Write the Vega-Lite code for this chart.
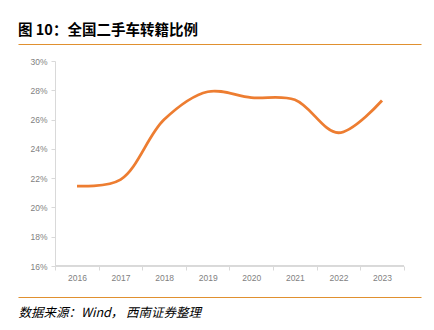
{
  "$schema": "https://vega.github.io/schema/vega-lite/v6.json",
  "width": 403,
  "height": 205,
  "autosize": "none",
  "padding": {"left": 18, "top": 61, "right": 13, "bottom": 64},
  "background": "white",
  "config": {"view": {"stroke": null}},
  "title": {
    "text": "图 10：全国二手车转籍比例",
    "anchor": "start",
    "frame": "group",
    "font": "Noto Sans CJK SC",
    "fontSize": 14.5,
    "fontWeight": "bold",
    "color": "#000000",
    "offset": 6
  },
  "data": {
    "values": [
      {"year": 2016, "value": 0.2146},
      {"year": 2017, "value": 0.2190},
      {"year": 2018, "value": 0.2600},
      {"year": 2019, "value": 0.2790},
      {"year": 2020, "value": 0.2750},
      {"year": 2021, "value": 0.2735},
      {"year": 2022, "value": 0.2510},
      {"year": 2023, "value": 0.2730}
    ]
  },
  "resolve": {"axis": {"x": "independent", "y": "independent"}},
  "layer": [
    {
      "mark": {"type": "line", "color": "#ED7D31", "strokeWidth": 2.8, "interpolate": "catmull-rom"},
      "encoding": {
        "x": {
          "field": "year",
          "type": "quantitative",
          "scale": {"domain": [2014.646, 2023.895], "nice": false, "zero": false},
          "axis": {
            "orient": "bottom",
            "values": [2016, 2017, 2018, 2019, 2020, 2021, 2022, 2023],
            "format": "d",
            "domain": false,
            "ticks": false,
            "grid": false,
            "labelOverlap": false,
            "labelPadding": 7,
            "labelFont": "Liberation Sans",
            "labelFontSize": 8.5,
            "labelColor": "#7f7f7f",
            "title": null
          }
        },
        "y": {
          "field": "value",
          "type": "quantitative",
          "scale": {"domain": [0.16, 0.30], "nice": false, "zero": false},
          "axis": {
            "orient": "left",
            "offset": -37,
            "values": [0.16, 0.18, 0.20, 0.22, 0.24, 0.26, 0.28, 0.30],
            "format": ".0%",
            "grid": false,
            "labelOverlap": false,
            "labelBound": false,
            "labelFlush": false,
            "domainColor": "#d9d9d9",
            "tickColor": "#d9d9d9",
            "tickSize": 4,
            "labelPadding": 4,
            "labelFont": "Liberation Sans",
            "labelFontSize": 8.5,
            "labelColor": "#7f7f7f",
            "title": null
          }
        }
      }
    },
    {
      "mark": {"type": "rule", "color": "#d9d9d9", "strokeWidth": 1},
      "encoding": {
        "x": {
          "datum": 2015.5,
          "type": "quantitative",
          "axis": {
            "orient": "bottom",
            "values": [2015.5, 2016.5, 2017.5, 2018.5, 2019.5, 2020.5, 2021.5, 2022.5, 2023.5],
            "labels": false,
            "domain": false,
            "grid": false,
            "ticks": true,
            "tickSize": 4,
            "tickColor": "#d9d9d9",
            "title": null
          }
        },
        "x2": {"datum": 2023.5},
        "y": {"datum": 0.16, "type": "quantitative", "axis": null}
      }
    },
    {
      "mark": {"type": "rule", "opacity": 0},
      "encoding": {
        "x": {
          "datum": 2016,
          "type": "quantitative",
          "axis": {
            "orient": "top",
            "offset": 17,
            "labels": false,
            "ticks": false,
            "grid": false,
            "domain": true,
            "domainColor": "#E0902F",
            "domainWidth": 1.2,
            "title": null
          }
        },
        "y": {"datum": 0.16, "type": "quantitative", "axis": null}
      }
    },
    {
      "mark": {"type": "rule", "opacity": 0},
      "encoding": {
        "x": {
          "datum": 2016,
          "type": "quantitative",
          "axis": {
            "orient": "bottom",
            "offset": 31,
            "labels": false,
            "ticks": false,
            "grid": false,
            "domain": true,
            "domainColor": "#E0902F",
            "domainWidth": 1.2,
            "title": "数据来源：Wind， 西南证券整理",
            "titleAnchor": "start",
            "titleAlign": "left",
            "titleFont": "Noto Sans CJK SC",
            "titleFontSize": 12.5,
            "titleFontStyle": "italic",
            "titleFontWeight": "normal",
            "titleColor": "#000000",
            "titlePadding": 9
          }
        },
        "y": {"datum": 0.16, "type": "quantitative", "axis": null}
      }
    }
  ]
}
